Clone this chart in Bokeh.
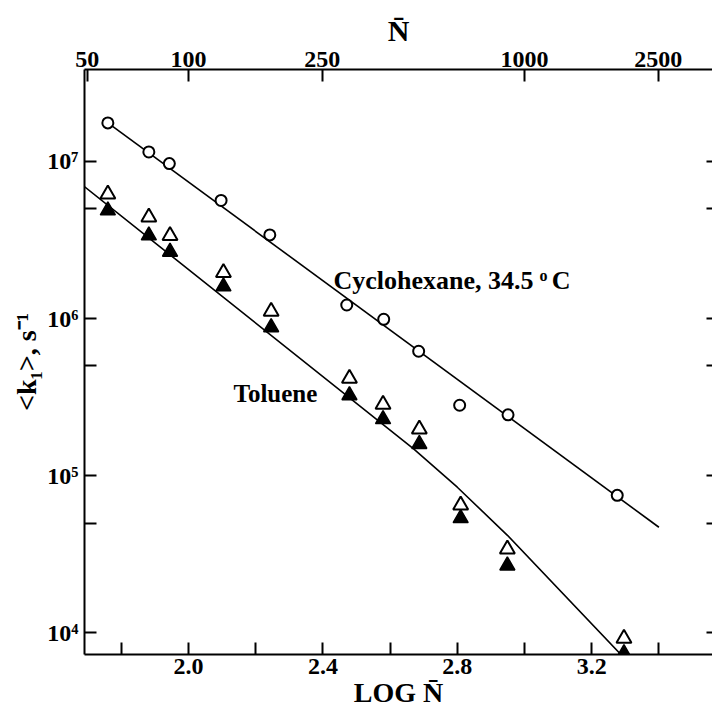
from bokeh.plotting import figure
from bokeh.models import (Range1d, LogAxis, FixedTicker, NumeralTickFormatter,
                          LogScale, Label)
from bokeh.embed import file_html
from bokeh.resources import INLINE

# ---- data ----
cyclo_log_n = [1.760, 1.882, 1.943, 2.097, 2.242, 2.471, 2.581, 2.685, 2.807, 2.951, 3.276]
cyclo_k = [1.76e7, 1.15e7, 9.7e6, 5.65e6, 3.41e6, 1.22e6, 9.9e5, 6.2e5, 2.81e5, 2.44e5, 7.5e4]

tol_log_n = [1.760, 1.882, 1.945, 2.104, 2.246, 2.479, 2.579, 2.687, 2.810, 2.949, 3.296]
tol_open_k = [6.2e6, 4.42e6, 3.37e6, 1.96e6, 1.11e6, 4.16e5, 2.84e5, 1.98e5, 6.5e4, 3.41e4, 9.2e3]
tol_filled_k = [4.88e6, 3.38e6, 2.66e6, 1.60e6, 8.8e5, 3.25e5, 2.29e5, 1.59e5, 5.36e4, 2.68e4, 7.4e3]

cyclo_fit_log_n = [1.76, 3.40]
cyclo_fit_k = [1.76e7, 4.7e4]

tol_fit_log_n = [1.69, 2.67, 2.80, 2.95, 3.29]
tol_fit_k = [6.93e6, 1.48e5, 8.45e4, 4.16e4, 7.16e3]

x_ticks = [2.0, 2.4, 2.8, 3.2]
x_minor_ticks = [1.8, 2.2, 2.6, 3.0, 3.4]
n_ticks = [50, 100, 250, 1000, 2500]
k_ticks = [1e4, 1e5, 1e6, 1e7]
k_minor_ticks = [5e4, 5e5, 5e6]
k_tick_labels = {10000: "10\u2074", 100000: "10\u2075", 1000000: "10\u2076", 10000000: "10\u2077"}

FONT = "Liberation Serif"
x_start, x_end = 1.6905, 3.5595
y_start, y_end = 7.28e3, 3.85e7

p = figure(width=712, height=712, output_backend="svg", toolbar_location=None,
           x_range=Range1d(x_start, x_end), y_range=Range1d(y_start, y_end),
           y_axis_type="log",
           min_border_left=84, min_border_top=69, min_border_bottom=58, min_border_right=0,
           background_fill_color="white", border_fill_color="white",
           outline_line_color=None)
p.xgrid.visible = False
p.ygrid.visible = False


def style_axis(ax, tick_in=12):
    ax.axis_line_color = "black"
    ax.axis_line_width = 2
    ax.major_tick_in = tick_in
    ax.major_tick_out = 0
    ax.minor_tick_in = tick_in
    ax.minor_tick_out = 0
    ax.major_tick_line_width = 2
    ax.minor_tick_line_width = 2
    ax.major_tick_line_color = "black"
    ax.minor_tick_line_color = "black"
    ax.major_label_text_font = FONT
    ax.major_label_text_font_style = "bold"
    ax.major_label_text_font_size = "24px"
    ax.major_label_text_color = "black"
    ax.axis_label_text_font = FONT
    ax.axis_label_text_font_style = "bold"
    ax.axis_label_text_color = "black"


# bottom axis
xa = p.xaxis[0]
style_axis(xa)
xa.ticker = FixedTicker(ticks=x_ticks, minor_ticks=x_minor_ticks)
xa.formatter = NumeralTickFormatter(format="0.0")
xa.major_label_standoff = 4
xa.axis_label = "LOG N\u0304"
xa.axis_label_text_font_size = "28px"
xa.axis_label_standoff = 0

# left axis
ya = p.yaxis[0]
style_axis(ya)
ya.ticker = FixedTicker(ticks=k_ticks, minor_ticks=k_minor_ticks)
ya.major_label_overrides = k_tick_labels
ya.major_label_standoff = 6
ya.axis_label = "<k\u2081>, s\u207b\u00b9"
ya.axis_label_text_font_size = "28px"
ya.axis_label_standoff = 2

# right axis (ticks only)
ra = LogAxis(ticker=FixedTicker(ticks=k_ticks, minor_ticks=k_minor_ticks))
style_axis(ra, tick_in=6)
ra.axis_line_color = None
ra.major_label_text_font_size = "2px"
ra.major_label_text_alpha = 0
ra.major_label_standoff = 0
p.add_layout(ra, "right")

# top axis in N
p.extra_x_ranges = {"N": Range1d(10 ** x_start, 10 ** x_end)}
p.extra_x_scales = {"N": LogScale()}
ta = LogAxis(x_range_name="N", ticker=FixedTicker(ticks=n_ticks),
             formatter=NumeralTickFormatter(format="0"))
style_axis(ta)
ta.major_label_standoff = 3
ta.axis_label = "N\u0304"
ta.axis_label_text_font_size = "30px"
ta.axis_label_standoff = 2
p.add_layout(ta, "above")

# fitted lines
p.line(cyclo_fit_log_n, cyclo_fit_k, line_color="black", line_width=1.6)
p.line(tol_fit_log_n, tol_fit_k, line_color="black", line_width=1.6)

# markers
p.scatter(cyclo_log_n, cyclo_k, marker="circle", size=11, line_width=2,
          line_color="black", fill_color="white")
p.scatter(tol_log_n, tol_open_k, marker="triangle", size=15, line_width=2,
          line_color="black", fill_color="white")
p.scatter(tol_log_n, tol_filled_k, marker="triangle", size=15, line_width=1.5,
          line_color="black", fill_color="black")

# annotations
lab_kw = dict(text_font=FONT, text_font_style="bold", text_color="black",
              text_baseline="alphabetic")
p.add_layout(Label(x=3.027, y=1.75e6, text="Cyclohexane, 34.5", text_font_size="26px",
                   text_align="right", **lab_kw))
p.add_layout(Label(x=3.045, y=1.88e6, text="o", text_font_size="16px",
                   text_align="left", **lab_kw))
p.add_layout(Label(x=3.081, y=1.75e6, text="C", text_font_size="26px",
                   text_align="left", **lab_kw))
p.add_layout(Label(x=2.134, y=3.33e5, text="Toluene", text_font_size="25px",
                   text_align="left", **lab_kw))

open("out.html", "w").write(file_html(p, INLINE))
